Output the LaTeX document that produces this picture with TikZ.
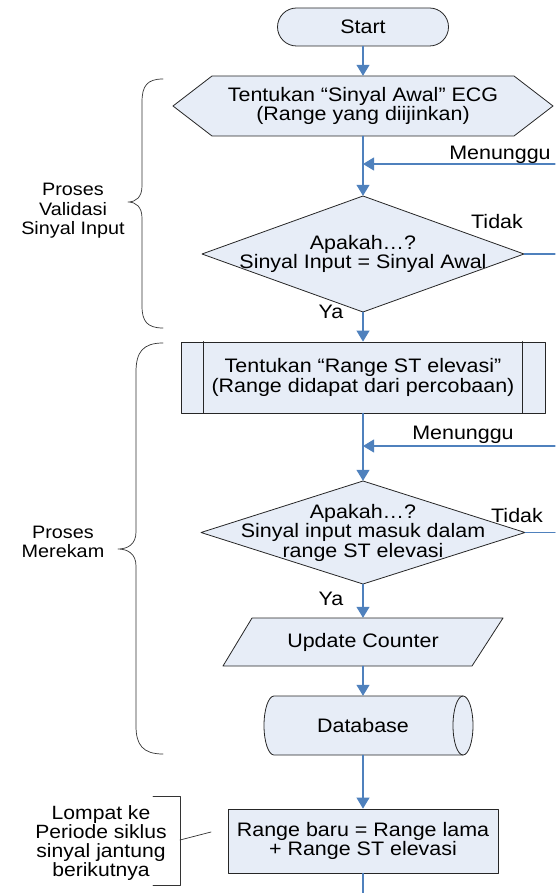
\documentclass[tikz,border=0pt]{standalone}
\usepackage{fontspec}
\setmainfont{Liberation Sans}[FakeStretch=1.1]
\usetikzlibrary{positioning}
\usetikzlibrary{calc}
\usetikzlibrary{arrows.meta}
\definecolor{flowblue}{RGB}{79,129,189}
\definecolor{boxfill}{RGB}{231,237,247}

\tikzset{
  box/.style={draw=black!85, fill=boxfill, line width=0.8pt},
  rim/.style={draw=black!85, line width=0.8pt},
  flow/.style={draw=flowblue, line width=1.1pt, -{Triangle[width=13pt,length=11pt]}},
  flowline/.style={draw=flowblue, line width=1.1pt},
  txt/.style={align=center, inner sep=0pt, font=\fontsize{19.5}{19.5}\selectfont},
  side/.style={align=center, inner sep=0pt, font=\fontsize{18}{19.5}\selectfont},
  brace/.style={draw=black!80, line width=0.7pt},
}

\begin{document}
\begin{tikzpicture}[x=1pt, y=-1pt, line cap=round, line join=round]
            \useasboundingbox (0,0) rectangle (555,893);

            % start
            \node (start) at (363,27) [box, txt, rounded corners=19pt, minimum width=171pt, minimum height=38pt] {Start};

            % hexagon: starting signal
            \draw[box] (173,106) -- (212,76) -- (514,76) -- (553,106) -- (514,136) -- (212,136) -- cycle;
            \node (hex) at (363,106) [txt, minimum width=380pt, minimum height=60pt] {Tentukan “Sinyal Awal” ECG\\(Range yang diijinkan)};

            % first decision
            \draw[box] (363,196) -- (524,254) -- (363,312) -- (202,254) -- cycle;
            \node (dec1) at (363,254) [txt, minimum width=322pt, minimum height=116pt] {Apakah…?\\Sinyal Input = Sinyal Awal};

            % predefined process
            \node (pp) at (363,377.5) [box, txt, minimum width=364pt, minimum height=71pt] {Tentukan “Range ST elevasi”\\(Range didapat dari percobaan)};
            \draw[rim] ($(pp.north west)+(23,0)$) -- ($(pp.south west)+(23,0)$);
            \draw[rim] ($(pp.north east)+(-23,0)$) -- ($(pp.south east)+(-23,0)$);

            % second decision
            \draw[box] (363,481) -- (525,532.5) -- (363,584) -- (201,532.5) -- cycle;
            \node (dec2) at (363,532.5) [txt, minimum width=324pt, minimum height=103pt] {Apakah…?\\Sinyal input masuk dalam\\range ST elevasi};

            % update counter
            \draw[box] (252,618) -- (503,618) -- (472,666) -- (223,666) -- cycle;
            \node (io) at (363,642) [txt, minimum height=48pt] {Update Counter};

            % database
            \draw[box] (274,696) -- (463,696)
                .. controls (468.5,696) and (473,709.2) .. (473,725.5)
                .. controls (473,741.8) and (468.5,755) .. (463,755)
                -- (274,755)
                .. controls (268.5,755) and (264,741.8) .. (264,725.5)
                .. controls (264,709.2) and (268.5,696) .. cycle;
            \draw[rim] (463,696) .. controls (457.5,696) and (453,709.2) .. (453,725.5)
                .. controls (453,741.8) and (457.5,755) .. (463,755);
            \node (db) at (363,725.5) [txt, minimum height=59pt] {Database};

            % new range
            \node (upd) at (363,841) [box, txt, minimum width=270pt, minimum height=64pt] {Range baru = Range lama\\+ Range ST elevasi};
            \coordinate (exit) at (363,893);

            % main flow
            \draw[flow] (start.south) -- (hex.north);
            \draw[flow] (hex.south) -- (dec1.north);
            \draw[flow] (dec1.south) -- (pp.north);
            \draw[flow] (pp.south) -- (dec2.north);
            \draw[flow] (dec2.south) -- (io.north);
            \draw[flow] (io.south) -- (db.north);
            \draw[flow] (db.south) -- (upd.north);
            \draw[flowline] (upd.south) -- (exit);

            % waiting loops
            \coordinate (wait1) at (363,164);
            \coordinate (wait1in) at (555,164);
            \draw[flow] (wait1in) -- (wait1);
            \node (wait1lbl) at (500,155) [txt] {Menunggu};

            \coordinate (wait2) at (363,446);
            \coordinate (wait2in) at (555,446);
            \draw[flow] (wait2in) -- (wait2);
            \node (wait2lbl) at (463,435) [txt] {Menunggu};

            % no branches
            \coordinate (no1) at (555,254);
            \draw[flowline] (dec1.east) -- (no1);
            \node (no1lbl) at (497,222) [txt] {Tidak};

            \coordinate (no2) at (555,532.5);
            \draw[flowline] (dec2.east) -- (no2);
            \node (no2lbl) at (517,516) [txt] {Tidak};

            % yes labels
            \node (yes1lbl) at (331,312) [txt] {Ya};
            \node (yes2lbl) at (331,599) [txt] {Ya};

            % braces
            \draw[brace] (163,79) .. controls (147,79) and (142,86) .. (142,102) -- (142,186)
                .. controls (142,197) and (136,202) .. (128,202)
                .. controls (136,202) and (142,207) .. (142,218) -- (142,306)
                .. controls (142,321) and (147,328) .. (163,328);
            \node (valid) at (73,211) [side] {Proses\\Validasi\\Sinyal Input};

            \draw[brace] (163,343) .. controls (143,343) and (136,352) .. (136,372) -- (136,532)
                .. controls (136,544) and (128,549) .. (118,549)
                .. controls (128,549) and (136,554) .. (136,566) -- (136,726)
                .. controls (136,745) and (143,754) .. (163,754);
            \node (rec) at (63,542) [side] {Proses\\Merekam};

            % jump note
            \draw[brace] (153,796) -- (180,796) -- (180,885) -- (153,885);
            \coordinate (jumpend) at (211,832);
            \draw[brace] (180,840) -- (jumpend);
            \node (jump) at (101,843) [side, font=\fontsize{19.2}{19.2}\selectfont] {Lompat ke\\Periode siklus\\sinyal jantung\\berikutnya};
        \end{tikzpicture}
\end{document}
